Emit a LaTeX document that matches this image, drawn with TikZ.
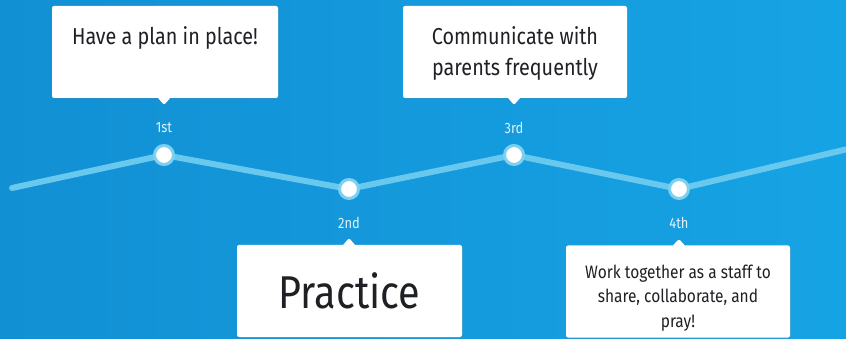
\documentclass[tikz,border=0pt]{standalone}
\usepackage{fontspec}
\setmainfont[FakeStretch=0.86]{Fira Sans}
\usetikzlibrary{backgrounds,
                shapes.callouts,
                shadows}

\definecolor{skyblue}{RGB}{22,163,228}
\definecolor{deepblue}{RGB}{18,144,212}
\definecolor{lineblue}{RGB}{104,200,237}
\definecolor{ringblue}{RGB}{125,208,240}
\definecolor{inkgrey}{RGB}{30,32,36}
\definecolor{tagwhite}{RGB}{225,243,252}

\tikzset{
    card/.style={rectangle callout, fill=white, rounded corners=2pt,
        minimum width=225pt, minimum height=92pt, inner sep=0pt,
        callout pointer width=12pt,
        drop shadow={opacity=0.18, shadow xshift=0.8pt, shadow yshift=-1pt}},
    cardtext/.style={text=inkgrey, align=center, inner sep=0pt},
    milestone/.style={circle, fill=white, draw=ringblue, line width=3pt,
        minimum size=19pt, inner sep=0pt},
    tag/.style={text=tagwhite, inner sep=0pt, font=\fontsize{15}{16}\selectfont}
}

\begin{document}
\begin{tikzpicture}[x=1pt, y=-1pt]
    \useasboundingbox (0, 0) rectangle (846, 339);

    % milestones on the line
    \coordinate (leftend) at (12, 188);
    \coordinate (rightend) at (852, 148);
    \node [milestone] (m1) at (164, 155) {};
    \node [milestone] (m2) at (349, 189) {};
    \node [milestone] (m3) at (514, 155) {};
    \node [milestone] (m4) at (679, 189) {};

    \begin{pgfonlayer}{background}
        \shade [left color=deepblue, right color=skyblue] (0, 0) rectangle (846, 339);
        \draw [lineblue, line width=6pt, line cap=round, line join=round]
            (leftend) -- (m1.center) -- (m2.center) -- (m3.center) -- (m4.center) -- (rightend);
    \end{pgfonlayer}

    \node [tag] (l1) at (164, 128) {1st};
    \node [tag] (l2) at (349, 223) {2nd};
    \node [tag] (l3) at (514, 128) {3rd};
    \node [tag] (l4) at (679, 223) {4th};

    % cards
    \node [card, minimum width=226pt, callout absolute pointer={(164, 105)}] (c1) at (165, 52) {};
    \node [card, minimum width=224pt, callout absolute pointer={(514, 105)}] (c3) at (515, 52) {};
    \node [card, callout absolute pointer={(349, 238)}] (c2) at (349.5, 291) {};
    \node [card, minimum width=224pt, callout absolute pointer={(679, 239)}] (c4) at (678, 291.5) {};

    \node [cardtext, anchor=north, font=\fontsize{23}{31}\selectfont]
        (t1) at ([yshift=-21pt]c1.north) {Have a plan in place!};
    \node [cardtext, anchor=north, font=\fontsize{23}{31}\selectfont]
        (t3) at ([yshift=-21pt]c3.north) {Communicate with\\parents frequently};
    \node [cardtext, font=\fontsize{46}{50}\selectfont]
        (t2) at (c2.center) {Practice};
    \node [cardtext, anchor=north, font=\fontsize{18}{24.5}\selectfont]
        (t4) at ([yshift=-19pt]c4.north) {Work together as a staff to\\share, collaborate, and\\pray!};
\end{tikzpicture}
\end{document}
